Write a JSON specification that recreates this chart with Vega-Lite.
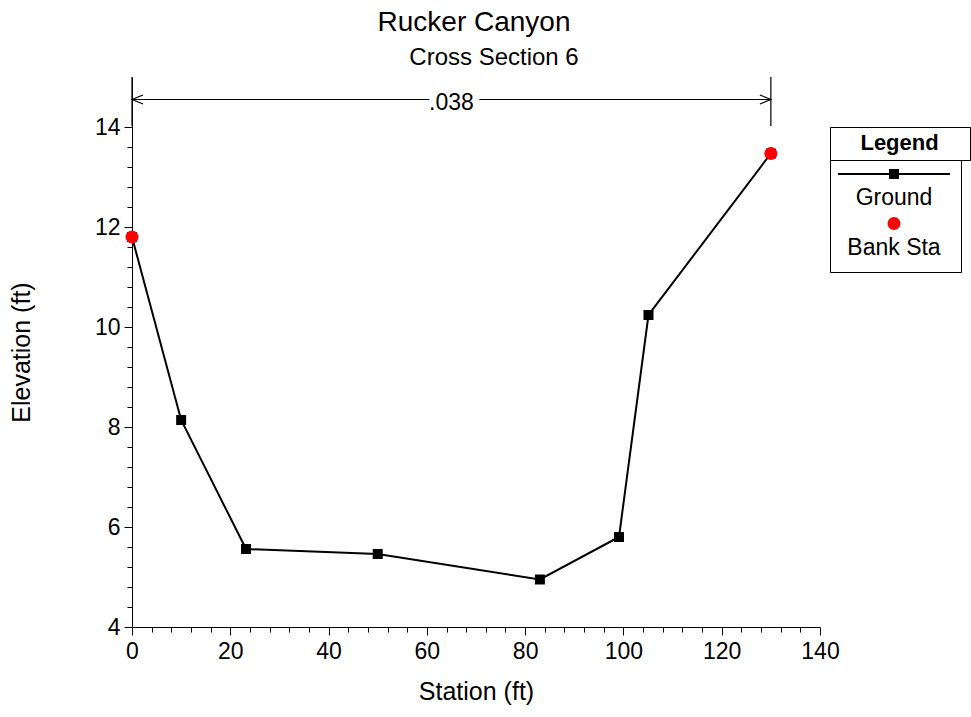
{
  "$schema": "https://vega.github.io/schema/vega-lite/v6.json",
  "width": 688,
  "height": 550,
  "autosize": {"type": "none"},
  "padding": {"left": 132, "top": 77, "right": 151, "bottom": 90},
  "background": "white",
  "title": {
    "text": "Rucker Canyon",
    "subtitle": "\u200b\u00a0\u00a0\u00a0\u00a0\u00a0\u00a0Cross Section 6",
    "anchor": "middle",
    "frame": "group",
    "dx": -2,
    "offset": 6,
    "font": "Liberation Sans",
    "fontSize": 28,
    "fontWeight": "normal",
    "color": "black",
    "subtitleFont": "Liberation Sans",
    "subtitleFontSize": 24,
    "subtitleColor": "black",
    "subtitlePadding": 9
  },
  "datasets": {
    "ground": [
      {"station": 0, "elevation": 11.8, "series": "Ground"},
      {"station": 10, "elevation": 8.14, "series": "Ground"},
      {"station": 23.2, "elevation": 5.56, "series": "Ground"},
      {"station": 50, "elevation": 5.46, "series": "Ground"},
      {"station": 83, "elevation": 4.95, "series": "Ground"},
      {"station": 99.1, "elevation": 5.8, "series": "Ground"},
      {"station": 105.1, "elevation": 10.24, "series": "Ground"},
      {"station": 130, "elevation": 13.47, "series": "Ground"}
    ],
    "banks": [
      {"station": 0, "elevation": 11.8, "series": "Bank Sta", "side": "Left"},
      {"station": 130, "elevation": 13.47, "series": "Bank Sta", "side": "Right"}
    ],
    "nvalue": [
      {"from": 0, "to": 130, "mid": 65, "elevation": 14.55, "n": ".038"}
    ]
  },
  "layer": [
    {
      "data": {"name": "nvalue"},
      "mark": {"type": "rule", "color": "black", "strokeWidth": 1.2},
      "encoding": {
        "x": {"field": "from", "type": "quantitative", "scale": {"domain": [0, 140], "nice": false, "zero": false}, "axis": null},
        "x2": {"field": "to"},
        "y": {"field": "elevation", "type": "quantitative", "scale": {"domain": [4, 15], "nice": false, "zero": false}, "axis": null}
      }
    },
    {
      "data": {"name": "nvalue"},
      "mark": {"type": "text", "fontSize": 23, "fill": "white", "stroke": "white", "strokeWidth": 14, "strokeJoin": "round", "baseline": "middle", "dy": 3},
      "encoding": {
        "x": {"field": "mid", "type": "quantitative", "scale": {"domain": [0, 140], "nice": false, "zero": false}, "axis": null},
        "y": {"field": "elevation", "type": "quantitative", "scale": {"domain": [4, 15], "nice": false, "zero": false}, "axis": null},
        "text": {"field": "n"}
      }
    },
    {
      "data": {"name": "nvalue"},
      "mark": {"type": "text", "fontSize": 23, "fill": "black", "baseline": "middle", "dy": 3},
      "encoding": {
        "x": {"field": "mid", "type": "quantitative", "scale": {"domain": [0, 140], "nice": false, "zero": false}, "axis": null},
        "y": {"field": "elevation", "type": "quantitative", "scale": {"domain": [4, 15], "nice": false, "zero": false}, "axis": null},
        "text": {"field": "n"}
      }
    },
    {
      "data": {"name": "banks"},
      "mark": {"type": "point", "filled": false, "stroke": "black", "strokeWidth": 1.2, "opacity": 1, "size": 484},
      "encoding": {
        "x": {"field": "station", "type": "quantitative", "scale": {"domain": [0, 140], "nice": false, "zero": false}, "axis": null},
        "y": {"datum": 14.55, "type": "quantitative", "scale": {"domain": [4, 15], "nice": false, "zero": false}, "axis": null},
        "shape": {"field": "side", "type": "nominal", "scale": {"domain": ["Left", "Right"], "range": ["M1,-0.41L0,0L1,0.41", "M-1,-0.41L0,0L-1,0.41"]}, "legend": null}
      }
    },
    {
      "data": {"name": "banks"},
      "mark": {"type": "rule", "color": "black", "strokeWidth": 1.2},
      "encoding": {
        "x": {"field": "station", "type": "quantitative", "scale": {"domain": [0, 140], "nice": false, "zero": false}, "axis": null},
        "y": {"datum": 14.02, "type": "quantitative", "scale": {"domain": [4, 15], "nice": false, "zero": false}, "axis": null},
        "y2": {"datum": 15}
      }
    },
    {
      "data": {"name": "ground"},
      "mark": {"type": "line", "color": "black", "strokeWidth": 2},
      "encoding": {
        "x": {
          "field": "station", "type": "quantitative",
          "scale": {"domain": [0, 140], "nice": false, "zero": false},
          "axis": {"orient": "bottom", "values": [0, 20, 40, 60, 80, 100, 120, 140], "title": "Station (ft)", "tickSize": 8, "labelPadding": 5, "titlePadding": 16}
        },
        "y": {
          "field": "elevation", "type": "quantitative",
          "scale": {"domain": [4, 15], "nice": false, "zero": false},
          "axis": {"orient": "left", "values": [4, 6, 8, 10, 12, 14], "title": "Elevation (ft)", "tickSize": 8, "labelPadding": 4, "titlePadding": 60}
        }
      }
    },
    {
      "data": {"name": "ground"},
      "mark": {"type": "point", "shape": "square", "filled": true, "size": 100, "opacity": 1},
      "encoding": {
        "x": {"field": "station", "type": "quantitative", "scale": {"domain": [0, 140], "nice": false, "zero": false}, "axis": null},
        "y": {"field": "elevation", "type": "quantitative", "scale": {"domain": [4, 15], "nice": false, "zero": false}, "axis": null},
        "color": {
          "field": "series", "type": "nominal",
          "scale": {"domain": ["Ground", "Bank Sta"], "range": ["black", "red"]},
          "legend": {
            "orient": "none", "legendX": 698, "legendY": 83,
            "title": null,
            "strokeColor": "black", "padding": 7,
            "rowPadding": 3.5,
            "labelFont": "Liberation Sans", "labelFontSize": 23, "labelColor": "black",
            "labelAlign": "center", "labelOffset": -57, "labelLimit": 300,
            "encoding": {
              "symbols": {
                "shape": {"condition": {"test": "datum.value === 'Ground'", "value": "M-1,0L1,0M-0.071,-0.071L0.071,-0.071L0.071,0.071L-0.071,0.071Z"}, "value": "M0.098,0A0.098,0.098,0,1,1,-0.098,0A0.098,0.098,0,1,1,0.098,0ZM0,0.66"},
                "size": {"value": 12544},
                "fill": {"condition": {"test": "datum.value === 'Ground'", "value": "black"}, "value": "red"},
                "stroke": {"condition": {"test": "datum.value === 'Ground'", "value": "black"}, "value": "red"},
                "strokeWidth": {"value": 2},
                "opacity": {"value": 1},
                "y": {"value": 7}
              },
              "labels": {"y": {"value": 7}, "dy": {"value": 24}}
            }
          }
        }
      }
    },
    {
      "data": {"name": "banks"},
      "mark": {"type": "point", "shape": "circle", "filled": true, "size": 169, "color": "red", "opacity": 1},
      "encoding": {
        "x": {
          "field": "station", "type": "quantitative",
          "scale": {"domain": [0, 140], "nice": false, "zero": false},
          "axis": {"orient": "bottom", "values": [4, 8, 12, 16, 24, 28, 32, 36, 44, 48, 52, 56, 64, 68, 72, 76, 84, 88, 92, 96, 104, 108, 112, 116, 124, 128, 132, 136], "labels": false, "domain": false, "tickSize": 5, "title": null}
        },
        "y": {
          "field": "elevation", "type": "quantitative",
          "scale": {"domain": [4, 15], "nice": false, "zero": false},
          "axis": {"orient": "left", "values": [4.4, 4.8, 5.2, 5.6, 6.4, 6.8, 7.2, 7.6, 8.4, 8.8, 9.2, 9.6, 10.4, 10.8, 11.2, 11.6, 12.4, 12.8, 13.2, 13.6], "labels": false, "domain": false, "tickSize": 5, "title": null}
        },
        "strokeDash": {
          "datum": "Legend", "type": "nominal",
          "legend": {
            "orient": "none", "legendX": 698, "legendY": 50,
            "values": [],
            "title": "\u200b\u00a0\u00a0\u00a0\u00a0Legend\u00a0\u00a0\u00a0\u00a0\u200b",
            "titleFont": "Liberation Sans", "titleFontSize": 22, "titleFontWeight": "bold", "titleColor": "black",
            "titlePadding": 0, "strokeColor": "black", "padding": 6
          }
        }
      }
    }
  ],
  "resolve": {"axis": {"x": "independent", "y": "independent"}},
  "config": {
    "font": "Liberation Sans",
    "view": {"stroke": null},
    "axis": {
      "grid": false,
      "labelFlush": false,
      "domainColor": "black",
      "domainWidth": 1,
      "tickColor": "black",
      "tickWidth": 1,
      "labelColor": "black",
      "labelFont": "Liberation Sans",
      "labelFontSize": 23,
      "titleColor": "black",
      "titleFont": "Liberation Sans",
      "titleFontSize": 25,
      "titleFontWeight": "normal"
    }
  }
}
